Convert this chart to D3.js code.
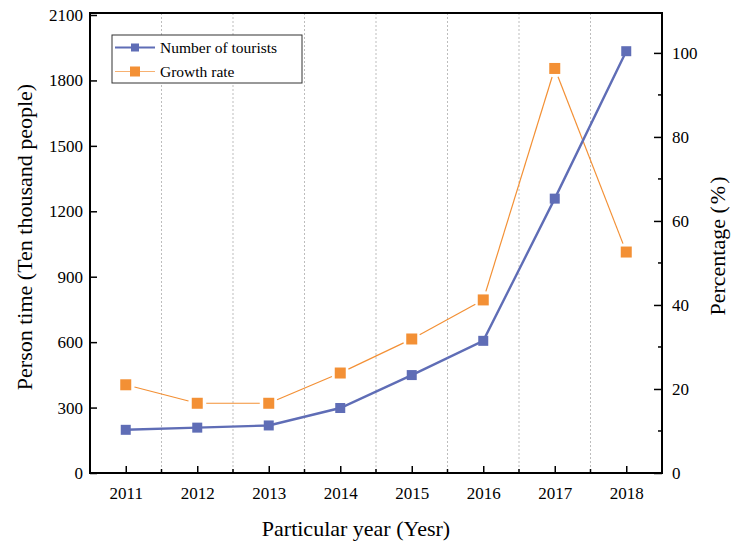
<!DOCTYPE html>
<html>
<head>
<meta charset="utf-8">
<script src="https://cdn.jsdelivr.net/npm/d3@7/dist/d3.min.js"></script>
<style>
  html, body { margin: 0; padding: 0; background: #fff; }
  svg { display: block; }
  svg text { font-family: "Liberation Serif", "Times New Roman", serif; }
</style>
</head>
<body>
<svg id="chart" width="732" height="544"></svg>
<script>
// Yearly tourist numbers (ten thousand people) and growth rate (%)
const years = [2011, 2012, 2013, 2014, 2015, 2016, 2017, 2018];
const tourists = [198, 208, 218, 298, 449, 606, 1258, 1934];
const growthRate = [21.0, 16.6, 16.6, 23.8, 31.9, 41.2, 96.3, 52.6];
const leftTicks = [0, 300, 600, 900, 1200, 1500, 1800, 2100];
const rightTicks = [0, 20, 40, 60, 80, 100];
const seriesNames = ["Number of tourists", "Growth rate"];

const blue = "#5f6db6";
const orange = "#f39035";
const serif = "Liberation Serif, Times New Roman, serif";

const svg = d3.select("#chart");
const m = { left: 90, right: 662, top: 13, bottom: 473 };

const x = d3.scaleLinear().domain([2010.5, 2018.5]).range([m.left, m.right]);
const yL = d3.scaleLinear().domain([0, 2100]).range([m.bottom, 15]);
const yR = d3.scaleLinear().domain([0, 109.5]).range([m.bottom, m.top]);

// dotted separators between years
const sep = d3.range(2011.5, 2018.5, 1);
svg.append("g").selectAll("line").data(sep).join("line")
  .attr("x1", d => x(d)).attr("x2", d => x(d))
  .attr("y1", m.top).attr("y2", m.bottom)
  .attr("stroke", "#bdbdbd").attr("stroke-width", 1)
  .attr("stroke-dasharray", "2,2");

function styleAxis(g) {
  g.attr("font-family", serif);
  g.select(".domain").remove();
  g.selectAll("line").attr("stroke", "#000").attr("stroke-width", 1.5);
  g.selectAll("text").attr("font-size", 17).attr("fill", "#000")
    .style("font-family", serif);
}

// bottom axis: major ticks at years, minor between
const xAxis = d3.axisBottom(x).tickValues(years).tickFormat(d3.format("d"))
  .tickSizeInner(-7).tickSizeOuter(0).tickPadding(14);
svg.append("g").attr("transform", `translate(0,${m.bottom})`).call(xAxis).call(styleAxis);
svg.append("g").selectAll("line").data(sep).join("line")
  .attr("x1", d => x(d)).attr("x2", d => x(d))
  .attr("y1", m.bottom).attr("y2", m.bottom - 4)
  .attr("stroke", "#000").attr("stroke-width", 1.5);

// left axis
const yAxisL = d3.axisLeft(yL).tickValues(leftTicks).tickFormat(d3.format("d"))
  .tickSizeInner(-7).tickSizeOuter(0).tickPadding(7);
svg.append("g").attr("transform", `translate(${m.left},0)`).call(yAxisL).call(styleAxis);

// right axis with minor ticks
const yAxisR = d3.axisRight(yR).tickValues(rightTicks).tickFormat(d3.format("d"))
  .tickSizeInner(-8).tickSizeOuter(0).tickPadding(10);
svg.append("g").attr("transform", `translate(${m.right},0)`).call(yAxisR).call(styleAxis);
svg.append("g").selectAll("line").data([10, 30, 50, 70, 90]).join("line")
  .attr("x1", m.right).attr("x2", m.right - 4)
  .attr("y1", d => yR(d)).attr("y2", d => yR(d))
  .attr("stroke", "#000").attr("stroke-width", 1.5);

// frame
svg.append("rect").attr("x", m.left).attr("y", m.top)
  .attr("width", m.right - m.left).attr("height", m.bottom - m.top)
  .attr("fill", "none").attr("stroke", "#000").attr("stroke-width", 2);

// growth rate: thin line with gaps around markers
const gPts = years.map((yr, i) => [x(yr), yR(growthRate[i])]);
const gap = 9;
const segs = d3.pairs(gPts).map(([a, b]) => {
  const dx = b[0] - a[0], dy = b[1] - a[1], L = Math.hypot(dx, dy);
  const ux = dx / L, uy = dy / L;
  return [a[0] + ux * gap, a[1] + uy * gap, b[0] - ux * gap, b[1] - uy * gap];
});
svg.append("g").selectAll("line").data(segs).join("line")
  .attr("x1", d => d[0]).attr("y1", d => d[1]).attr("x2", d => d[2]).attr("y2", d => d[3])
  .attr("stroke", orange).attr("stroke-width", 1.2);

// tourists: thicker line
const lineL = d3.line().x((d, i) => x(years[i])).y(d => yL(d));
svg.append("path").datum(tourists).attr("d", lineL)
  .attr("fill", "none").attr("stroke", blue).attr("stroke-width", 2.4);

// markers
svg.append("g").selectAll("rect").data(tourists).join("rect")
  .attr("x", (d, i) => x(years[i]) - 5).attr("y", d => yL(d) - 5)
  .attr("width", 10).attr("height", 10).attr("fill", blue);
svg.append("g").selectAll("rect").data(growthRate).join("rect")
  .attr("x", (d, i) => x(years[i]) - 5.5).attr("y", d => yR(d) - 5.5)
  .attr("width", 11).attr("height", 11).attr("fill", orange);

// legend
const lg = svg.append("g");
lg.append("rect").attr("x", 112).attr("y", 35).attr("width", 190).attr("height", 48)
  .attr("fill", "#fff").attr("stroke", "#333").attr("stroke-width", 1);
const lgColors = [blue, orange];
seriesNames.forEach((name, i) => {
  const cy = 47.5 + i * 24;
  lg.append("line").attr("x1", 115).attr("x2", 155).attr("y1", cy).attr("y2", cy)
    .attr("stroke", lgColors[i]).attr("stroke-width", i === 0 ? 2 : 1.2)
    .attr("stroke-opacity", i === 0 ? 1 : 0.7);
  const s = i === 0 ? 8 : 10;
  lg.append("rect").attr("x", 135 - s / 2).attr("y", cy - s / 2).attr("width", s).attr("height", s)
    .attr("fill", lgColors[i]);
  lg.append("text").attr("x", 160).attr("y", cy + 5).attr("font-size", 15.5).attr("fill", "#000").text(name);
});

// axis titles
svg.append("text").attr("x", (m.left + m.right) / 2 - 20).attr("y", 536)
  .attr("text-anchor", "middle").attr("font-size", 22).attr("fill", "#000")
  .text("Particular year (Yesr)");
svg.append("text").attr("transform", "translate(32,237) rotate(-90)")
  .attr("text-anchor", "middle").attr("font-size", 22).attr("fill", "#000")
  .text("Person time (Ten thousand people)");
const rt = svg.append("text").attr("transform", "translate(725,246) rotate(-90)")
  .attr("text-anchor", "middle").attr("font-size", 22).attr("fill", "#000");
rt.append("tspan").text("Percentage (");
rt.append("tspan").attr("dx", 2).text("%");
rt.append("tspan").attr("dx", 2).text(")");
</script>
</body>
</html>
